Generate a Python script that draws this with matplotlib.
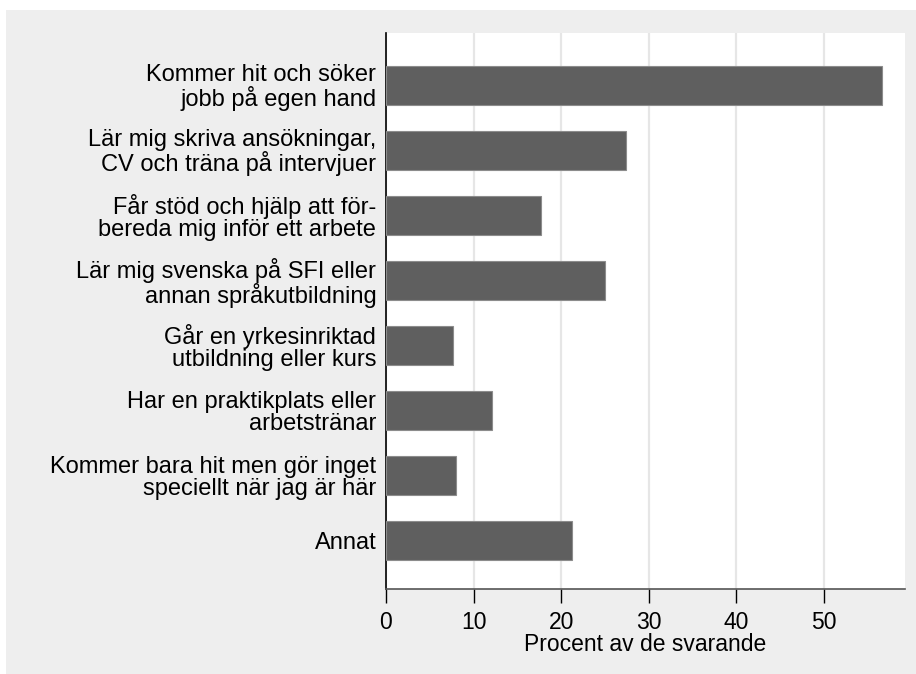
import matplotlib.pyplot as plt
from matplotlib.patches import Rectangle

# answers (top to bottom) and percent of respondents
labels = [
    "Kommer hit och söker\njobb på egen hand",
    "Lär mig skriva ansökningar,\nCV och träna på intervjuer",
    "Får stöd och hjälp att för-\nbereda mig inför ett arbete",
    "Lär mig svenska på SFI eller\nannan språkutbildning",
    "Går en yrkesinriktad\nutbildning eller kurs",
    "Har en praktikplats eller\narbetstränar",
    "Kommer bara hit men gör inget\nspeciellt när jag är här",
    "Annat",
]
values = [56.6, 27.4, 17.7, 25.0, 7.65, 12.05, 8.0, 21.2]
xticks = [0, 10, 20, 30, 40, 50]

plt.rcParams['font.family'] = ['Liberation Sans', 'DejaVu Sans']

W, H = 916, 674
fig = plt.figure(figsize=(W / 100, H / 100), dpi=100, facecolor='white')
# light gray background panel (white strip on top and left edge)
fig.patches.append(Rectangle((6 / W, 0), 1 - 6 / W, 1 - 10 / H,
                             transform=fig.transFigure, facecolor='#eeeeee',
                             edgecolor='none', zorder=-10))

ax = fig.add_axes([386 / W, 1 - 589 / H, (905 - 386) / W, (589 - 33) / H])
ax.set_facecolor('white')

pos = list(range(len(values)))
ax.barh(pos, values, height=0.6, color='#5f5f5f', edgecolor='#8c8c8c',
        linewidth=0.8, zorder=3)

ax.set_xlim(0, 59.25)
ax.set_ylim(7.75, -0.8)
ax.set_xticks(xticks)
ax.set_yticks(pos)
ax.set_yticklabels(labels, fontsize=17, linespacing=1.0)
ax.tick_params(axis='y', length=0, pad=7)
ax.tick_params(axis='x', length=10, width=1, color='black', labelsize=16.5, pad=6)
ax.grid(axis='x', color='#e6e6e6', linewidth=1.6, zorder=0)
ax.set_axisbelow(True)

for s in ['top', 'right']:
    ax.spines[s].set_visible(False)
ax.spines['left'].set_color('black')
ax.spines['left'].set_linewidth(1.2)
ax.spines['bottom'].set_color('#555555')
ax.spines['bottom'].set_linewidth(1.2)

ax.set_xlabel("Procent av de svarande", fontsize=16.5, labelpad=-1)

fig.savefig("out.png", dpi=100, facecolor=fig.get_facecolor())
